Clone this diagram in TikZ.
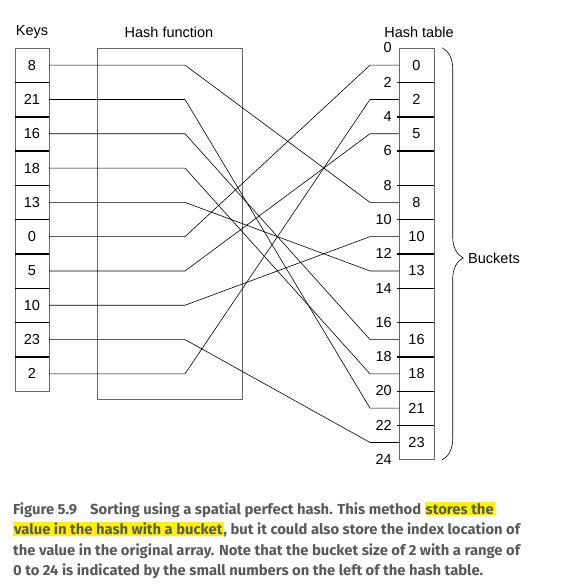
\documentclass[tikz,border=0pt]{standalone}
\usepackage{fontspec}
\setmainfont{Liberation Sans}
\newfontfamily\capfont[FakeStretch=1.02]{Fira Sans}
\usetikzlibrary{decorations.pathreplacing}
\definecolor{capgray}{HTML}{58595B}
\definecolor{marker}{HTML}{FFF200}
\newcommand{\marked}[1]{{\setlength{\fboxsep}{1pt}\colorbox{marker}{#1}}}

\begin{document}
\begin{tikzpicture}[x=1pt,y=1pt,
    cell/.style={draw=black!60,minimum width=34pt,minimum height=34.3pt,inner sep=0pt,font=\fontsize{14.5}{16}\selectfont},
    sep/.style={line width=1.4pt},
    link/.style={line width=0.6pt},
    lbl/.style={font=\fontsize{14.5}{16}\selectfont,inner sep=0pt},
    capline/.style={anchor=base west,inner sep=0pt,text=capgray,font=\capfont\bfseries\fontsize{14.5}{17}\selectfont}]
  \useasboundingbox (0,0) rectangle (582,-586);
  % keys
  \node[lbl] (keys) at (32,-32) {Keys};
  \foreach \v [count=\i from 0] in {8,21,16,18,13,0,5,10,23,2}
    \node[cell] (k\i) at (32,{-48-34.3*(\i+0.5)}) {\v};
  \foreach \i in {0,...,8}
    \draw[sep] (k\i.south west) -- (k\i.south east);
  % hash function
  \node[lbl] (hftitle) at (169,-32) {Hash function};
  \node[draw=black!60,minimum width=145pt,minimum height=351pt,inner sep=0pt] (hf) at (169.5,-223.5) {};
  % hash table
  \node[lbl] (httitle) at (419,-32) {Hash table};
  \foreach \v [count=\j from 0] in {0,2,5,{},8,10,13,{},16,18,21,23}
    \node[cell,minimum width=35pt] (b\j) at (416.5,{-48-34.3*(\j+0.5)}) {\v};
  \foreach \j in {0,...,10}
    \draw[sep] ([xshift=-2pt]b\j.south west) -- (b\j.south east);
  \foreach \n [count=\j from 0] in {0,2,...,24}
    \node[lbl,anchor=east] (n\j) at (392,{-48-34.3*\j}) {\n};
  % connectors
  \coordinate (bendl) at (185,0);
  \coordinate (bendr) at (370,0);
  \foreach \i/\j in {0/4,1/10,2/8,3/9,4/6,5/0,6/2,7/5,8/11,9/1}
    \draw[link] (k\i.east) -- (k\i.east -| bendl) -- (b\j.west -| bendr) -- (b\j.west);
  % brace
  \draw[line width=0.6pt,decorate,decoration={brace,amplitude=21pt,aspect=0.51}]
    ([xshift=8pt]b0.north east) -- ([xshift=8pt]b11.south east);
  \node[lbl,anchor=west] (buckets) at (468,-258) {Buckets};
  % caption
  \node[capline] (cap1) at (13,-514) {Figure 5.9\hspace{0.9em}Sorting using a spatial perfect hash. This method \marked{stores the}};
  \node[capline] (cap2) at (13,-534.5) {\marked{value in the hash with a bucket}, but it could also store the index location of};
  \node[capline] (cap3) at (13,-555) {the value in the original array. Note that the bucket size of 2 with a range of};
  \node[capline] (cap4) at (13,-575.5) {0 to 24 is indicated by the small numbers on the left of the hash table.};
\end{tikzpicture}
\end{document}
